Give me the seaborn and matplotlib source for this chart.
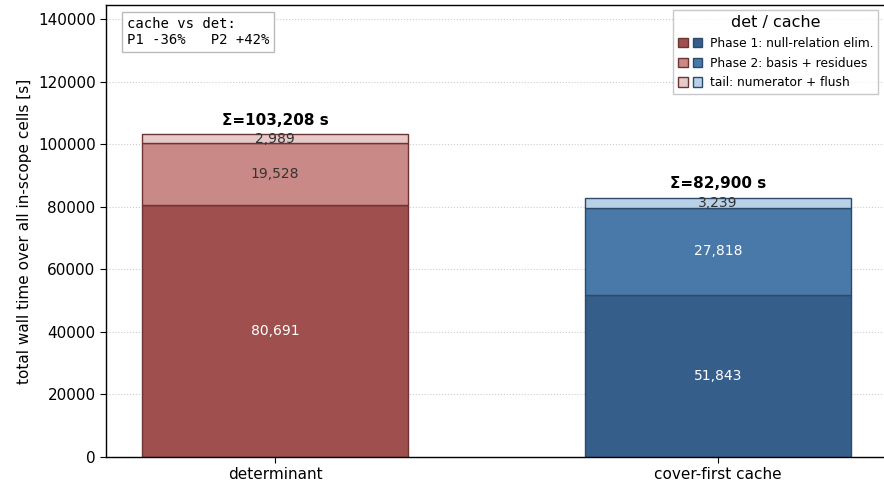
import matplotlib
matplotlib.use("Agg")
import matplotlib.pyplot as plt
from matplotlib.patches import Patch
from matplotlib.legend_handler import HandlerTuple
import numpy as np
import pandas as pd
import seaborn as sns

# ---- data -------------------------------------------------------------
methods = ["determinant", "cover-first cache"]
phase1 = [80691, 51843]
phase2 = [19528, 27818]
tail = [2989, 3239]
layer_names = ["Phase 1: null-relation elim.", "Phase 2: basis + residues", "tail: numerator + flush"]
summary_text = "cache vs det:\nP1 -36%   P2 +42%"

# ---- styling ------------------------------------------------------------
det_colors = ["#A04F4F", "#C98987", "#E8C9C9"]
cache_colors = ["#355F8A", "#4879A8", "#B9D1E7"]
det_edge = "#6E3434"
cache_edge = "#2E4A6A"
label_colors = [["white", "white"], ["#333333", "white"], ["#333333", "#333333"]]

sns.set_theme(style="white")
plt.rcParams["font.family"] = ["DejaVu Sans"]
plt.rcParams["text.color"] = "black"
plt.rcParams["axes.labelcolor"] = "black"
plt.rcParams["xtick.color"] = "black"
plt.rcParams["ytick.color"] = "black"

fig = plt.figure(figsize=(8.84, 4.84), dpi=100)
ax = fig.add_axes([0.1199, 0.0558, 0.8835, 0.9339])

layers = [phase1, phase2, tail]
bottom = np.zeros(len(methods))
for i, vals in enumerate(layers):
    df = pd.DataFrame({"method": methods, "value": vals})
    n_before = len(ax.patches)
    sns.barplot(
        data=df, x="method", y="value", order=methods, color=det_colors[i],
        saturation=1, width=0.6, bottom=bottom.copy(), linewidth=1.0,
        errorbar=None, ax=ax,
    )
    # colour each bar of this layer by its method
    for j, patch in enumerate(ax.patches[n_before:]):
        patch.set_facecolor(det_colors[i] if j == 0 else cache_colors[i])
        patch.set_edgecolor(det_edge if j == 0 else cache_edge)
    bottom = bottom + np.array(vals, dtype=float)

# segment value labels
bottom = np.zeros(len(methods))
for i, vals in enumerate(layers):
    for j, v in enumerate(vals):
        ax.text(j, bottom[j] + v / 2, f"{v:,}", ha="center", va="center",
                fontsize=10, color=label_colors[i][j])
    bottom = bottom + np.array(vals, dtype=float)

# totals above each stack
for j, tot in enumerate(bottom):
    ax.annotate(f"Σ={int(tot):,} s", (j, tot),
                xytext=(0, 4.5), textcoords="offset points",
                ha="center", va="bottom", fontsize=11, fontweight="bold")

ax.set_xlim(-0.3815, 1.3815)
ax.set_ylim(0, 1.4 * bottom.max())
ax.set_yticks(np.arange(0, 140001, 20000))
ax.yaxis.grid(True, linestyle=":", color="#cccccc", linewidth=0.8)
ax.set_axisbelow(True)
ax.set_xlabel("")
ax.set_ylabel("total wall time over all in-scope cells [s]", fontsize=11)
ax.tick_params(axis="both", labelsize=11, length=4, width=0.8, left=True, bottom=True, color="black")
for s in ax.spines.values():
    s.set_color("black")
    s.set_linewidth(1.0)

# summary box
ax.text(0.027, 0.974, summary_text, transform=ax.transAxes, ha="left", va="top",
        family="DejaVu Sans Mono", fontsize=10,
        bbox=dict(boxstyle="square,pad=0.35", facecolor="white", edgecolor="#bbbbbb"))

# legend: paired swatches (det / cache)
handles = []
for i in range(len(layers)):
    handles.append((Patch(facecolor=det_colors[i], edgecolor=det_edge),
                    Patch(facecolor=cache_colors[i], edgecolor=cache_edge)))
leg = ax.legend(handles, layer_names, title="det / cache", loc="upper right",
                handler_map={tuple: HandlerTuple(ndivide=None, pad=0.4)},
                fontsize=8.8, title_fontsize=11.5, handlelength=2.0, handleheight=0.8,
                handletextpad=0.6, labelspacing=0.55, borderpad=0.4,
                frameon=True, fancybox=False, edgecolor="#bbbbbb",
                bbox_to_anchor=(0.9965, 1.002))

fig.savefig("out.png", dpi=100)
